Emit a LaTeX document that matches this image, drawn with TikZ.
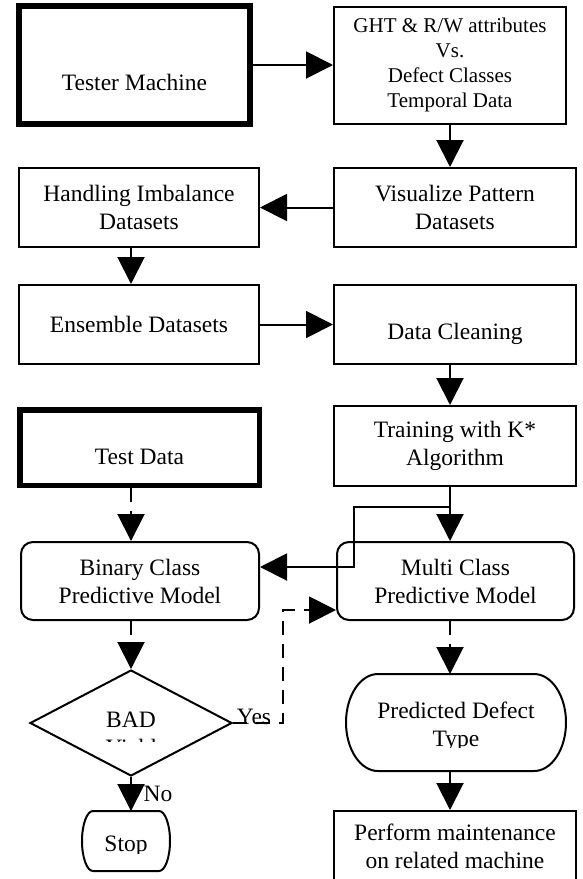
\documentclass[tikz,border=0pt]{standalone}
\usepackage{fontspec}
\setmainfont{Liberation Serif}
\usetikzlibrary{arrows.meta,positioning,shapes.geometric}
\tikzset{
  >={Triangle[length=27pt,width=27pt]},
  blk/.style ={draw, line width=2pt, inner sep=0pt, align=center, font=\fontsize{23.5}{28}\selectfont},
  tblk/.style={blk, line width=5.5pt},
  rblk/.style={blk, rounded corners=12pt},
  dec/.style ={draw, diamond, line width=2pt, inner sep=0pt},
  pill/.style={rectangle, inner sep=0pt, outer sep=0pt},
  txt/.style ={align=center, inner sep=0pt, font=\fontsize{23.5}{28}\selectfont},
  ln/.style  ={line width=2pt},
  dln/.style ={ln, dash pattern=on 14pt off 9pt}
}

\begin{document}
\begin{tikzpicture}[x=1pt,y=-1pt]
\clip (0,0) rectangle (582,879);
% left column
\node[tblk, minimum width=231pt, minimum height=118pt, text height=52pt] (tester) at (134.5,65) {Tester Machine};
\node[blk, minimum width=240pt, minimum height=79pt] (hand) at (139,207.5) {Handling Imbalance\\Datasets};
\node[blk, minimum width=240pt, minimum height=79pt] (ens) at (139,324.5) {Ensemble Datasets};
\node[tblk, minimum width=239.5pt, minimum height=75.5pt, text height=35pt] (test) at (139.5,447.5) {Test Data};
\node[rblk, minimum width=238pt, minimum height=78pt] (binary) at (140,581) {Binary Class\\Predictive Model};
\node[dec, minimum width=202pt, minimum height=106pt] (yield) at (131,723) {};
\node[pill, minimum width=88pt, minimum height=60pt] (stop) at (126,841) {};
\draw[ln] ([xshift=11pt]stop.north west) -- ([xshift=-11pt]stop.north east)
  arc[start angle=90, end angle=-90, x radius=11pt, y radius=30pt]
  -- ([xshift=11pt]stop.south west)
  arc[start angle=270, end angle=90, x radius=11pt, y radius=30pt] -- cycle;
% right column
\node[blk, minimum width=232pt, minimum height=117pt, font=\fontsize{21}{25}\selectfont] (ght) at (450,65)
  {GHT \& R/W attributes\\Vs.\\Defect Classes\\Temporal Data};
\node[blk, minimum width=242pt, minimum height=79pt] (vis) at (455,207.5) {Visualize Pattern\\Datasets};
\node[blk, minimum width=242pt, minimum height=79pt, text height=36pt] (clean) at (455,324.5) {Data Cleaning};
\node[blk, minimum width=242pt, minimum height=80pt] (train) at (455,446) {Training with K*\\Algorithm};
\node[rblk, minimum width=237pt, minimum height=78pt] (multi) at (455.5,581) {Multi Class\\Predictive Model};
\node[pill, minimum width=220pt, minimum height=97pt] (pred) at (456,722.5) {};
\draw[ln] ([xshift=32pt]pred.north west) -- ([xshift=-32pt]pred.north east)
  arc[start angle=90, end angle=-90, x radius=32pt, y radius=48.5pt]
  -- ([xshift=32pt]pred.south west)
  arc[start angle=270, end angle=90, x radius=32pt, y radius=48.5pt] -- cycle;
\node[blk, minimum width=242pt, minimum height=70pt] (perf) at (455,846) {Perform maintenance\\on related machine};

% cut-off texts
\begin{scope}
  \clip (0,700) rectangle (260,741);
  \node[txt] (yieldtxt) at (131,734) {BAD\\Yield};
\end{scope}
\begin{scope}
  \clip (300,690) rectangle (582,747);
  \node[txt] (predtxt) at (456,727) {Predicted Defect\\Type};
\end{scope}
\begin{scope}
  \clip (80,820) rectangle (175,853);
  \node[txt] (stoptxt) at (126,846.5) {Stop};
\end{scope}

\node[txt] (yes) at (254,717) {Yes};
\node[txt] (no) at (158,794) {No};

% connectors
\draw[ln,->] (tester.east) -- (ght.west);
\draw[ln,->] (ght.south) -- (ght.south |- vis.north);
\draw[ln,->] (vis.west) -- (hand.east);
\draw[ln,->] (hand.south -| yield.north) -- (ens.north -| yield.north);
\draw[ln,->] (ens.east) -- (clean.west);
\draw[ln,->] (clean.south -| ght.south) -- (train.north -| ght.south);
\draw[ln,->] (train.south -| ght.south) -- (multi.north -| ght.south);
\coordinate (split) at (450,507);
\coordinate (kink) at (354,507);
\draw[ln,->] (split) -- (kink) |- ([yshift=14pt]binary.east);
\draw[dln,->] (test.south -| yield.north) -- (binary.north -| yield.north);
\draw[dln,->] (binary.south -| yield.north) -- (yield.north);
\coordinate (yesup) at (283,723);
\draw[dln,->] (yield.east) -- (yesup) |- ([yshift=-29pt]multi.west);
\draw[ln,->] (yield.south) -- (yield.south |- stop.north);
\draw[dln,->] (multi.south -| ght.south) -- (pred.north -| ght.south);
\draw[ln,->] (pred.south -| ght.south) -- (perf.north -| ght.south);
\end{tikzpicture}
\end{document}
